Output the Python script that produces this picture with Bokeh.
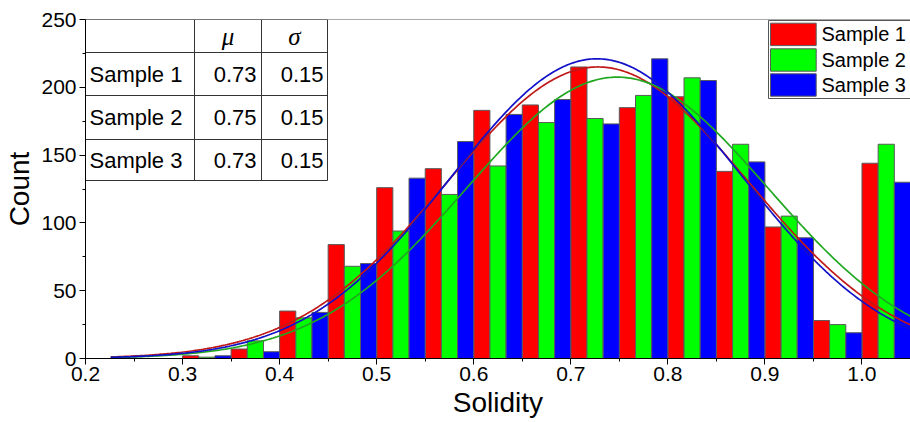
import numpy as np
from bokeh.plotting import figure
from bokeh.models import Range1d, SingleIntervalTicker, PrintfTickFormatter, Span
from bokeh.core.properties import value
from bokeh.embed import file_html
from bokeh.resources import INLINE

# ---------------- data ----------------
bin_starts = [0.20, 0.25, 0.30, 0.35, 0.40, 0.45, 0.50, 0.55, 0.60,
              0.65, 0.70, 0.75, 0.80, 0.85, 0.90, 0.95, 1.00]
bin_width = 0.05
sample1 = [0, 0, 2, 7, 35, 84, 126, 140, 183, 187, 215, 185, 193, 138, 97, 28, 144]
sample2 = [0, 0, 1, 13, 30, 68, 94, 121, 142, 174, 177, 194, 207, 158, 105, 25, 158]
sample3 = [0, 0, 2, 5, 34, 70, 133, 160, 180, 191, 173, 221, 205, 145, 89, 19, 130]
series_names = ["Sample 1", "Sample 2", "Sample 3"]
bar_colors = ["#FF0000", "#00FF00", "#0000FF"]
fit_colors = ["#C01818", "#1FA81F", "#1010C8"]

# normal-fit parameters (peak height, mean, sigma)
fit_peak = [215.0, 207.5, 221.0]
fit_mu = [0.728, 0.748, 0.727]
fit_sigma = [0.155, 0.155, 0.150]
fit_x_start = 0.226

table_header = ["", "\u03bc", "\u03c3"]
table_rows = ["Sample 1", "Sample 2", "Sample 3"]
table_mu = ["0.73", "0.75", "0.73"]
table_sigma = ["0.15", "0.15", "0.15"]

x_label = "Solidity"
y_label = "Count"

# ---------------- layout ----------------
W, H = 910, 422
F_L, F_R, F_T, F_B = 85, 910, 19, 358
X0, X1, Y0, Y1 = 0.2, 1.05, 0.0, 250.0


def dx(px):
    return X0 + (px - F_L) * (X1 - X0) / (F_R - F_L)


def dy(py):
    return Y0 + (F_B - py) * (Y1 - Y0) / (F_B - F_T)


SANS = "Liberation Sans"

p = figure(width=W, height=H, x_range=Range1d(X0, X1), y_range=Range1d(Y0, Y1),
           output_backend="svg", toolbar_location=None,
           min_border_left=F_L, min_border_right=W - F_R,
           min_border_top=F_T, min_border_bottom=H - F_B)
p.outline_line_color = None
p.background_fill_color = "white"
p.border_fill_color = "white"
p.xgrid.visible = False
p.ygrid.visible = False

for ax in (p.xaxis[0], p.yaxis[0]):
    ax.axis_line_color = "black"
    ax.axis_line_width = 1
    ax.major_tick_line_color = "black"
    ax.minor_tick_line_color = "black"
    ax.major_tick_out = 6
    ax.major_tick_in = 0
    ax.minor_tick_out = 3
    ax.minor_tick_in = 0
    ax.major_label_text_font = SANS
    ax.major_label_text_font_size = "21px"
    ax.major_label_text_color = "black"
    ax.axis_label_text_font = SANS
    ax.axis_label_text_font_size = "28px"
    ax.axis_label_text_font_style = "normal"
    ax.axis_label_text_color = "black"

p.xaxis.ticker = SingleIntervalTicker(interval=0.1, num_minor_ticks=2)
p.xaxis.formatter = PrintfTickFormatter(format="%.1f")
p.xaxis.major_label_standoff = 2
p.xaxis.axis_label = x_label
p.xaxis.axis_label_standoff = 3

p.yaxis.ticker = SingleIntervalTicker(interval=50, num_minor_ticks=2)
p.yaxis.major_label_standoff = 3
p.yaxis.axis_label = y_label
p.yaxis.axis_label_standoff = 3

p.add_layout(Span(location=Y1, dimension="width", line_color="#555555", line_width=1))

# ---------------- bars ----------------
all_series = [sample1, sample2, sample3]
for i, vals in enumerate(all_series):
    xs = [b + bin_width * (i + 0.5) / 3 for b, v in zip(bin_starts, vals) if v > 0]
    ts = [v for v in vals if v > 0]
    p.vbar(x=xs, top=ts, width=bin_width / 3, bottom=0,
           fill_color=bar_colors[i], line_color="#5a5a5a", line_width=1)

# ---------------- normal fit curves ----------------
xc = np.linspace(fit_x_start, X1, 400)
for i in range(3):
    yc = fit_peak[i] * np.exp(-(xc - fit_mu[i]) ** 2 / (2 * fit_sigma[i] ** 2))
    p.line(xc, yc, line_color=fit_colors[i], line_width=1.7)

# ---------------- table ----------------
T_L, T_R, T_C1, T_C2 = 85, 327, 194, 261
T_rows = [19, 52, 95, 139, 180]
LINE = "#333333"
p.quad(left=[dx(T_L)], right=[dx(T_R)], top=[dy(T_rows[0])], bottom=[dy(T_rows[-1])],
       fill_color="white", line_color=LINE, line_width=1)
p.segment(x0=[dx(T_C1), dx(T_C2)] + [dx(T_L)] * 3,
          y0=[dy(T_rows[0]), dy(T_rows[0])] + [dy(r) for r in T_rows[1:4]],
          x1=[dx(T_C1), dx(T_C2)] + [dx(T_R)] * 3,
          y1=[dy(T_rows[-1]), dy(T_rows[-1])] + [dy(r) for r in T_rows[1:4]],
          line_color=LINE, line_width=1)

row_mid = [(T_rows[k] + T_rows[k + 1]) / 2 for k in range(1, 4)]
p.text(x=[dx(T_L + 4)] * 3, y=[dy(m) for m in row_mid], text=table_rows,
       text_font=value(SANS), text_font_size=value("22px"), text_color="black",
       text_align="left", text_baseline="middle")
p.text(x=[dx(T_C2 - 5)] * 3, y=[dy(m) for m in row_mid], text=table_mu,
       text_font=value(SANS), text_font_size=value("22px"), text_color="black",
       text_align="right", text_baseline="middle")
p.text(x=[dx(T_R - 4)] * 3, y=[dy(m) for m in row_mid], text=table_sigma,
       text_font=value(SANS), text_font_size=value("22px"), text_color="black",
       text_align="right", text_baseline="middle")
hdr_mid = (T_rows[0] + T_rows[1]) / 2
p.text(x=[dx((T_C1 + T_C2) / 2), dx((T_C2 + T_R) / 2)], y=[dy(hdr_mid)] * 2,
       text=table_header[1:], text_font=value("Liberation Serif"),
       text_font_style="italic", text_font_size=value("25px"), text_color="black",
       text_align="center", text_baseline="middle")

# ---------------- legend ----------------
L_L, L_R, L_T, L_B = 768, 950, 20, 98
p.quad(left=[dx(L_L)], right=[dx(L_R)], top=[dy(L_T)], bottom=[dy(L_B)],
       fill_color="white", line_color="#555555", line_width=1)
sw_top = [22.7, 48.3, 73.3]
sw_h = 22.4
p.quad(left=[dx(770)] * 3, right=[dx(815.7)] * 3,
       top=[dy(t) for t in sw_top], bottom=[dy(t + sw_h) for t in sw_top],
       fill_color=bar_colors, line_color="#5a5a5a", line_width=1)
p.text(x=[dx(821)] * 3, y=[dy(t + sw_h / 2) for t in sw_top], text=series_names,
       text_font=value(SANS), text_font_size=value("20px"), text_color="black",
       text_align="left", text_baseline="middle")

open("out.html", "w").write(file_html(p, INLINE))
